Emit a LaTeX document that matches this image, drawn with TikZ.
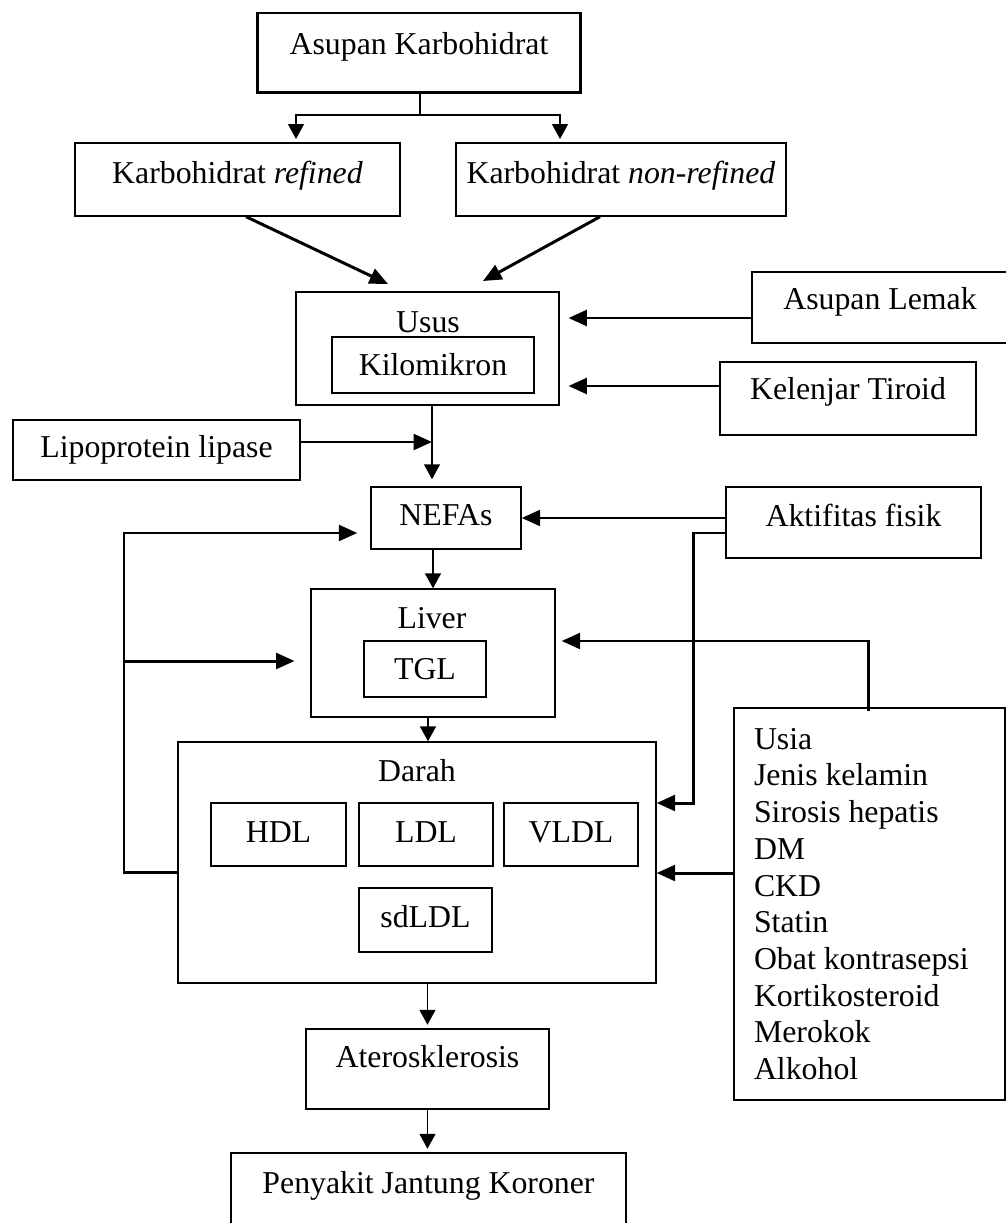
\documentclass[tikz,border=0pt]{standalone}
\usepackage{fontspec}
\setmainfont{Liberation Serif}
\usetikzlibrary{arrows.meta,positioning,calc}

\begin{document}
\begin{tikzpicture}[x=0.02cm, y=-0.02cm,
    every node/.style={font=\fontsize{18.1}{20.9}\selectfont},
    box/.style={rectangle, draw, line width=0.8pt, inner sep=0pt, text height=12.36pt},
    arr/.style={-{Triangle[length=8.5pt,width=9pt]}, line width=1.1pt},
    tarr/.style={-{Triangle[length=10.5pt,width=9pt]}, line width=1.7pt}]
  \useasboundingbox (0,0) rectangle (1006,1223);

  % Asupan karbohidrat
  \node[box, line width=1.7pt, minimum width=6.48cm, minimum height=1.6cm, text depth=11.2pt] (kh) at (419,53) {Asupan Karbohidrat};
  \node[box, minimum width=6.5cm, minimum height=1.46cm, text depth=8.3pt] (khr) at (237.5,179.5) {Karbohidrat \textit{refined}};
  \node[box, minimum width=6.6cm, minimum height=1.46cm, text depth=8.3pt] (khn) at (621,179.5) {Karbohidrat \textit{non-refined}};

  \coordinate (split) at (420,115);
  \coordinate (tl) at (296,139);
  \coordinate (tr) at (560,139);
  \draw[line width=1.1pt] (kh.south -| split) -- (split);
  \draw[arr] (split) -| (tl);
  \draw[arr] (split) -| (tr);

  % Usus
  \node[box, minimum width=5.26cm, minimum height=2.26cm] (usus) at (427.5,348.5) {};
  \node[anchor=base] (ususlbl) at (428,332) {Usus};
  \node[box, minimum width=4.04cm, minimum height=1.12cm, text depth=0pt] (kilo) at (433,365) {Kilomikron};

  \coordinate (usl) at (388,284);
  \coordinate (usr) at (483,281);
  \draw[tarr] ($(khr.south)+(8.5,0)$) -- (usl);
  \draw[tarr] ($(khn.south)+(-21,0)$) -- (usr);

  % Asupan lemak, kelenjar tiroid
  \node[box, minimum width=5.12cm, minimum height=1.42cm, text depth=9.6pt] (lemak) at (880,307.5) {Asupan Lemak};
  \node[box, minimum width=5.12cm, minimum height=1.46cm, text depth=10.7pt] (tiroid) at (848,398.5) {Kelenjar Tiroid};
  \draw[tarr, shorten >=5pt] (lemak.west |- 0,318) -- (usus.east |- 0,318);
  \draw[tarr, shorten >=5pt] (tiroid.west |- 0,386) -- (usus.east |- 0,386);

  % Lipoprotein lipase, NEFAs
  \node[box, minimum width=5.74cm, minimum height=1.2cm, text depth=3.3pt] (lpl) at (156.5,450) {Lipoprotein lipase};
  \node[box, minimum width=3cm, minimum height=1.24cm, text depth=4.3pt] (nefa) at (446,518) {NEFAs};
  \coordinate (lpljoin) at (432,442);
  \draw[arr, shorten >=4pt] (usus.south -| lpljoin) -- (nefa.north -| lpljoin);
  \draw[tarr] (lpl.east |- lpljoin) -- (lpljoin);

  % Aktifitas fisik
  \node[box, minimum width=5.1cm, minimum height=1.42cm, text depth=8.3pt] (fisik) at (853.5,522.5) {Aktifitas fisik};
  \draw[tarr] (fisik.west |- 0,518) -- (nefa.east |- 0,518);

  % Liver
  \node[box, minimum width=4.88cm, minimum height=2.56cm] (liver) at (433,653) {};
  \node[anchor=base] (liverlbl) at (432,628) {Liver};
  \node[box, minimum width=2.44cm, minimum height=1.12cm, text depth=0pt] (tgl) at (425,669) {TGL};
  \draw[arr] (nefa.south -| liver.north) -- (liver.north);

  % Darah
  \node[box, minimum width=9.56cm, minimum height=4.82cm] (darah) at (417,862.5) {};
  \node[anchor=base] (darahlbl) at (417,781) {Darah};
  \node[box, minimum width=2.7cm, minimum height=1.26cm, text depth=2.7pt] (hdl) at (278.5,834.5) {HDL};
  \node[box, minimum width=2.68cm, minimum height=1.26cm, text depth=2.7pt] (ldl) at (426,834.5) {LDL};
  \node[box, minimum width=2.68cm, minimum height=1.26cm, text depth=2.7pt] (vldl) at (571,834.5) {VLDL};
  \node[box, minimum width=2.66cm, minimum height=1.28cm, text depth=3.3pt] (sdldl) at (425.5,920) {sdLDL};
  \draw[arr] (liver.south -| 428,0) -- (darah.north -| 428,0);

  % faktor lain
  \node[box, text height=, minimum width=5.42cm, minimum height=7.84cm, text width=4.62cm, inner xsep=0.4cm, align=left] (usia) at (869.5,904)
    {\spaceskip=0pt\relax Usia\\ Jenis kelamin\\ Sirosis hepatis\\ DM\\ CKD\\ Statin\\ Obat kontrasepsi\\ Kortikosteroid\\ Merokok\\ Alkohol};
  \draw[tarr, shorten >=3.4pt] ($(usia.north)+(-1.5,4)$) |- (liver.east |- 0,641);
  \draw[tarr] (usia.west |- 0,873) -- (darah.east |- 0,873);
  \draw[tarr] (fisik.west |- 0,533) -| (693,803) -- (darah.east |- 0,803);

  % umpan balik
  \draw[tarr, shorten >=7.4pt] (darah.west |- 0,872) -| (124,533) -- (nefa.west |- 0,533);
  \draw[tarr, shorten >=9pt] (124,661) -- (liver.west |- 0,661);

  % Aterosklerosis, PJK
  \node[box, minimum width=4.86cm, minimum height=1.6cm, text depth=13.6pt] (ateros) at (427.5,1069) {Aterosklerosis};
  \node[box, minimum width=7.9cm, minimum height=1.6cm, text depth=12.36pt] (pjk) at (428.5,1193) {Penyakit Jantung Koroner};
  \draw[arr, shorten >=2pt] (darah.south -| ateros.north) -- (ateros.north);
  \draw[arr, shorten >=2pt] (ateros.south) -- (pjk.north -| ateros.south);
\end{tikzpicture}
\end{document}
